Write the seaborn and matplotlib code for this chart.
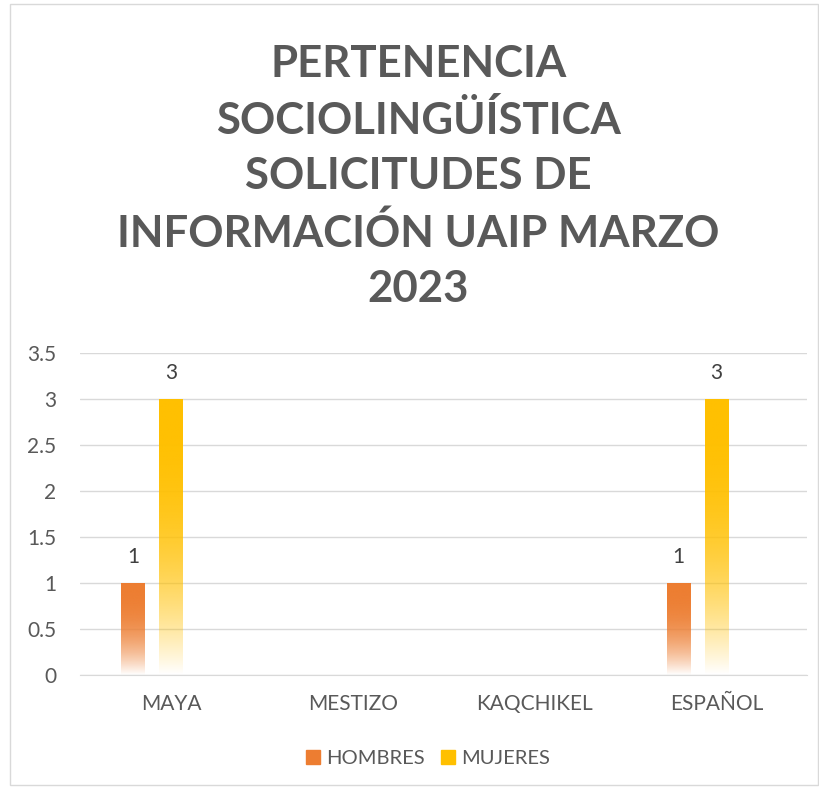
#Bar chart: pertenencia sociolinguistica, solicitudes UAIP marzo 2023

import matplotlib.pyplot as plt
import matplotlib.patches as mpatches
import numpy as np
import pandas as pd
import seaborn as sb
from matplotlib.colors import to_rgb

#Data
categories = ["MAYA", "MESTIZO", "KAQCHIKEL", "ESPAÑOL"]
hombres = [1, np.nan, np.nan, 1]
mujeres = [3, np.nan, np.nan, 3]
series = ["HOMBRES", "MUJERES", " "]
colors = ["#ED7D31", "#FFC000", "#A5A5A5"]
title = "PERTENENCIA\nSOCIOLINGÜÍSTICA\nSOLICITUDES DE\nINFORMACIÓN UAIP MARZO\n2023"

#Long table (third series is empty, Excel kept a slot for it)
df = pd.DataFrame({
    "cat": categories * 3,
    "serie": ["HOMBRES"] * 4 + ["MUJERES"] * 4 + [" "] * 4,
    "valor": hombres + mujeres + [np.nan] * 4,
})

sb.set_style("white")
plt.rcParams["font.family"] = ["Lato", "DejaVu Sans"]
grey = "#595959"

fig = plt.figure(figsize=(8.2, 7.93), dpi=100)
ax = fig.add_axes([0.0976, 0.149, 0.887, 0.406])

sb.barplot(data=df, x="cat", y="valor", hue="serie", hue_order=series,
           palette=colors, order=categories, width=0.626, gap=0.37,
           saturation=1, legend=False, ax=ax)

ax.set_ylim(0, 3.5)
ax.set_xlim(-0.5, 3.5)
ax.set_yticks(np.arange(0, 3.51, 0.5))
ax.set_yticklabels(["0", "0.5", "1", "1.5", "2", "2.5", "3", "3.5"])
ax.grid(axis="y", color="#D9D9D9", linewidth=1)
ax.set_axisbelow(True)
for s in ["top", "right", "left"]:
    ax.spines[s].set_visible(False)
ax.spines["bottom"].set_color("#D9D9D9")
ax.tick_params(axis="both", length=0, labelsize=15, colors=grey)
ax.tick_params(axis="y", pad=17)
ax.tick_params(axis="x", pad=14)
ax.set_xlabel("")
ax.set_ylabel("")

#Gradient fill: solid colour at the top fading to white at the base
for patch in list(ax.patches):
    h = patch.get_height()
    if not np.isfinite(h) or h <= 0:
        continue
    x, w = patch.get_x(), patch.get_width()
    rgb = to_rgb(patch.get_facecolor())
    t = np.linspace(1, 0, 200)  # 1 at bottom row, 0 at top
    alpha = 1 - t ** 2.5
    grad = np.zeros((200, 1, 4))
    grad[:, 0, :3] = rgb
    grad[:, 0, 3] = alpha
    ax.imshow(grad, extent=[x, x + w, 0, h], origin="lower", aspect="auto",
              interpolation="bilinear", zorder=2)
    patch.set_visible(False)
    ax.text(x + w / 2, h + 0.17, f"{h:g}", ha="center", va="bottom",
            fontsize=15, color="#404040")

ax.set_ylim(0, 3.5)
ax.set_xlim(-0.5, 3.5)

fig.suptitle(title, x=0.51, y=0.945, fontsize=31.5, fontweight="bold",
             color=grey, linespacing=1.47)

handles = [mpatches.Patch(color=colors[0], label="HOMBRES"),
           mpatches.Patch(color=colors[1], label="MUJERES")]
fig.legend(handles=handles, loc="center", bbox_to_anchor=(0.522, 0.043),
           ncol=2, frameon=False, fontsize=14.5, labelcolor=grey,
           handlelength=0.7, handleheight=0.7, handletextpad=0.3,
           columnspacing=0.8)

#Chart border
fig.add_artist(mpatches.Rectangle((0.012, 0.01), 0.985, 0.985,
                                  transform=fig.transFigure, fill=False,
                                  edgecolor="#D9D9D9", linewidth=1))

plt.savefig("out.png", dpi=100)
